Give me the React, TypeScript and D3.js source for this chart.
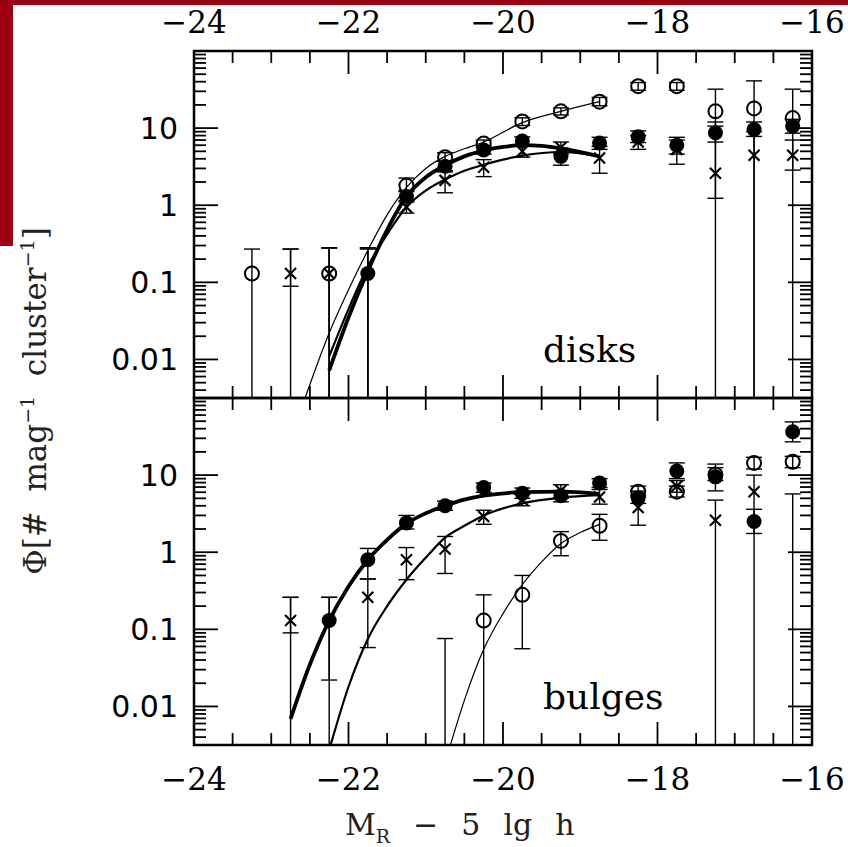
import React from "react";
import * as d3 from "d3";

// ---- data ----
const MAGS = [-23.25, -22.75, -22.25, -21.75, -21.25, -20.75, -20.25, -19.75, -19.25, -18.75, -18.25, -17.75, -17.25, -16.75, -16.25];

const X_TICKS = [-24, -22, -20, -18, -16];
const Y_TICKS = [0.01, 0.1, 1, 10];
const Y_TICK_LABELS = ["0.01", "0.1", "1", "10"];

// disks
const diskOpen = [0.13, 0, 0.13, 0, 1.8, 4.2, 6.3, 12.2, 16.5, 22, 35, 35, 16.5, 18, 13.5];
const diskOpenLo = [0, null, 0, null, 1.5, 3.7, 5.6, 10.8, 14.8, 19.5, 31, 31, 0, 0, 0];
const diskOpenHi = [0.27, 0.27, 0.28, 0.28, 2.25, 4.8, 7.0, 13.6, 18.3, 25, 39, 39, 32, 41, 32];

const diskFilled = [null, null, 0, 0.13, 1.3, 3.2, 5.2, 6.8, 4.3, 6.4, 7.7, 6.0, 8.7, 9.6, 10.6];
const diskFilledLo = [null, null, null, 0, 1.1, 2.8, 4.6, 6.0, 3.3, 5.3, 6.5, 4.6, 6.6, 7.8, 8.6];
const diskFilledHi = [null, null, 0.28, 0.27, 1.55, 3.7, 5.9, 7.7, 5.5, 7.6, 9.2, 7.6, 12.0, 12, 13];

const diskCross = [null, 0.13, 0.13, 0, 0.95, 2.1, 3.1, 5.0, 5.6, 4.1, 6.6, 5.3, 2.6, 4.45, 4.45];
const diskCrossLo = [null, 0.089, 0, null, 0.79, 1.45, 2.35, 4.2, 4.6, 2.6, 5.3, 3.4, 1.23, 0, 2.85];
const diskCrossHi = [null, 0.27, 0.28, 0.28, 1.15, 2.7, 3.9, 5.9, 6.6, 5.8, 8.0, 7.0, 10.6, 9, 7];

// bulges
const bulgeOpen = [null, null, null, null, null, 0, 0.13, 0.28, 1.4, 2.2, 6.1, 6.1, 10.2, 14.4, 14.9];
const bulgeOpenLo = [null, null, null, null, null, null, 0, 0.056, 0.9, 1.43, 5.2, 5.2, 8.5, 12, 12.5];
const bulgeOpenHi = [null, null, null, null, null, 0.076, 0.28, 0.5, 1.85, 3.1, 7.2, 7.2, 12.5, 17, 17.5];

const bulgeFilled = [null, 0, 0.13, 0.8, 2.4, 4.0, 6.9, 5.8, 5.4, 7.9, 5.1, 11.3, 9.5, 2.5, 36.5];
const bulgeFilledLo = [null, null, 0.022, 0.45, 2.0, 3.5, 6.0, 5.0, 4.5, 6.9, 4.3, 9.0, 6.25, 1.75, 27];
const bulgeFilledHi = [null, 0.26, 0.26, 1.12, 3.0, 4.6, 7.9, 6.8, 6.3, 9.0, 6.2, 14.4, 13.9, 3.6, 49];

const bulgeCross = [null, 0.13, 0, 0.26, 0.8, 1.1, 2.9, 4.8, 6.3, 5.2, 3.8, 7.2, 2.6, 6.1, 0];
const bulgeCrossLo = [null, 0.09, null, 0.058, 0.44, 0.53, 2.3, 4.0, 5.0, 4.2, 2.24, 6.0, 0, 0, null];
const bulgeCrossHi = [null, 0.26, 0.26, 0.45, 1.15, 1.6, 3.5, 5.6, 7.5, 6.5, 5.5, 8.5, 4.74, 10, 5.7];

// fit curves
const diskOpenFitM = [-22.56, -22.25, -22.0, -21.75, -21.5, -21.25, -21.0, -20.75, -20.5, -20.25, -19.75, -19.25, -18.75];
const diskOpenFitV = [0.0032, 0.022, 0.08, 0.26, 0.75, 1.7, 3.0, 4.3, 5.4, 6.6, 11.8, 16.5, 22];
const diskFilledFitM = [-22.25, -22.0, -21.75, -21.5, -21.25, -21.0, -20.75, -20.5, -20.25, -20.0, -19.75, -19.5, -19.25, -18.75];
const diskFilledFitV = [0.0072, 0.035, 0.14, 0.48, 1.3, 2.3, 3.3, 4.3, 5.1, 5.7, 6.0, 5.9, 5.45, 4.3];
const diskCrossFitM = [-22.25, -22.0, -21.75, -21.5, -21.25, -21.0, -20.75, -20.5, -20.25, -20.0, -19.75, -19.25, -18.75];
const diskCrossFitV = [0.011, 0.045, 0.16, 0.42, 0.95, 1.55, 2.15, 2.8, 3.35, 3.9, 4.4, 4.9, 4.3];

const bulgeFilledFitM = [-22.75, -22.5, -22.25, -22.0, -21.75, -21.5, -21.25, -21.0, -20.75, -20.5, -20.25, -19.75, -19.25, -18.75];
const bulgeFilledFitV = [0.0069, 0.035, 0.13, 0.36, 0.8, 1.45, 2.35, 3.2, 4.0, 4.8, 5.4, 6.0, 6.1, 5.7];
const bulgeCrossFitM = [-22.23, -22.0, -21.75, -21.5, -21.25, -21.0, -20.75, -20.5, -20.25, -19.75, -19.25, -18.75];
const bulgeCrossFitV = [0.0032, 0.018, 0.075, 0.2, 0.44, 0.85, 1.55, 2.2, 3.0, 4.3, 5.1, 5.5];
const bulgeOpenFitM = [-20.68, -20.5, -20.25, -20.0, -19.75, -19.5, -19.25, -19.0, -18.75];
const bulgeOpenFitV = [0.0032, 0.012, 0.055, 0.16, 0.38, 0.75, 1.3, 1.8, 2.3];

// ---- layout ----
const W = 848, H = 847;
const L = 194, R = 812;
const T1 = 51, B1 = 398, T2 = 398, B2 = 745;
const Y_DOMAIN: [number, number] = [Math.pow(10, -2.5), 100];
const RED = "#9d0012";
const SERIF = "'DejaVu Serif', serif";
const SANS = "'DejaVu Sans', sans-serif";

type Series = { kind: "open" | "filled" | "cross"; v: (number | null)[]; lo: (number | null)[]; hi: (number | null)[] };
type Fit = { m: number[]; v: number[]; w: number };

const x = d3.scaleLinear().domain([-24, -16]).range([L, R]);

function Panel({ id, top, bottom, series, fits, label }: { id: string; top: number; bottom: number; series: Series[]; fits: Fit[]; label: string }) {
  const y = d3.scaleLog().domain(Y_DOMAIN).range([bottom, top]);
  const line = d3.line<[number, number]>().x((d) => x(d[0])).y((d) => y(d[1])).curve(d3.curveMonotoneX);
  const minor: number[] = [];
  for (let e = -3; e <= 1; e++) for (let k = 2; k <= 9; k++) { const v = k * Math.pow(10, e); if (v > Y_DOMAIN[0] && v < Y_DOMAIN[1]) minor.push(v); }
  const xMinor = d3.range(-23.5, -16, 0.5).filter((m) => Math.abs(m % 2) > 0.01);
  const xMajor = [-22, -20, -18];
  const capW = 8;
  return (
    <g>
      <defs>
        <clipPath id={id}><rect x={L} y={top} width={R - L} height={bottom - top} /></clipPath>
      </defs>
      {/* ticks */}
      <g stroke="#000" strokeWidth={1.8}>
        {xMinor.map((m) => (
          <g key={"xm" + m}>
            <line x1={x(m)} x2={x(m)} y1={top} y2={top + 12} />
            <line x1={x(m)} x2={x(m)} y1={bottom} y2={bottom - 12} />
          </g>
        ))}
        {xMajor.map((m) => (
          <g key={"xM" + m}>
            <line x1={x(m)} x2={x(m)} y1={top} y2={top + 23} />
            <line x1={x(m)} x2={x(m)} y1={bottom} y2={bottom - 23} />
          </g>
        ))}
        {minor.map((v) => (
          <g key={"ym" + v}>
            <line x1={L} x2={L + 12} y1={y(v)} y2={y(v)} />
            <line x1={R} x2={R - 12} y1={y(v)} y2={y(v)} />
          </g>
        ))}
        {Y_TICKS.map((v) => (
          <g key={"yM" + v}>
            <line x1={L} x2={L + 24} y1={y(v)} y2={y(v)} />
            <line x1={R} x2={R - 24} y1={y(v)} y2={y(v)} />
          </g>
        ))}
      </g>
      {/* y tick labels */}
      {Y_TICKS.map((v, i) => (
        <text key={"yl" + v} x={178} y={y(v)} dy="0.36em" textAnchor="end" fontFamily={SANS} fontSize={30}>{Y_TICK_LABELS[i]}</text>
      ))}
      <g clipPath={`url(#${id})`}>
        {/* fits */}
        {fits.map((f, i) => (
          <path key={"f" + i} d={line(f.m.map((m, j) => [m, f.v[j]] as [number, number])) || ""} fill="none" stroke="#000" strokeWidth={f.w} strokeLinejoin="round" />
        ))}
        {/* error bars */}
        {series.map((s, si) => MAGS.map((m, i) => {
          const hi = s.hi[i];
          if (hi == null) return null;
          const lo = s.lo[i];
          const cx = x(m);
          const yH = y(hi);
          const yL = lo == null || lo <= 0 ? bottom + 2 : y(lo);
          return (
            <g key={`e${si}-${i}`} stroke="#000" strokeWidth={1.4}>
              <line x1={cx} x2={cx} y1={yH} y2={yL} />
              <line x1={cx - capW} x2={cx + capW} y1={yH} y2={yH} />
              {lo != null && lo > 0 && <line x1={cx - capW} x2={cx + capW} y1={yL} y2={yL} />}
            </g>
          );
        }))}
        {/* markers */}
        {series.map((s, si) => MAGS.map((m, i) => {
          const v = s.v[i];
          if (v == null || v <= 0) return null;
          const cx = x(m), cy = y(v);
          if (s.kind === "open") return <circle key={`m${si}-${i}`} cx={cx} cy={cy} r={7} fill="none" stroke="#000" strokeWidth={2} />;
          if (s.kind === "filled") return <circle key={`m${si}-${i}`} cx={cx} cy={cy} r={7.5} fill="#000" />;
          const d = 5.5;
          return (
            <g key={`m${si}-${i}`} stroke="#000" strokeWidth={2.2}>
              <line x1={cx - d} x2={cx + d} y1={cy - d} y2={cy + d} />
              <line x1={cx - d} x2={cx + d} y1={cy + d} y2={cy - d} />
            </g>
          );
        }))}
      </g>
      <text x={543} y={bottom - 36} fontFamily={SERIF} fontSize={36}>{label}</text>
    </g>
  );
}

export default function App() {
  const diskSeries: Series[] = [
    { kind: "open", v: diskOpen, lo: diskOpenLo, hi: diskOpenHi },
    { kind: "filled", v: diskFilled, lo: diskFilledLo, hi: diskFilledHi },
    { kind: "cross", v: diskCross, lo: diskCrossLo, hi: diskCrossHi },
  ];
  const bulgeSeries: Series[] = [
    { kind: "open", v: bulgeOpen, lo: bulgeOpenLo, hi: bulgeOpenHi },
    { kind: "filled", v: bulgeFilled, lo: bulgeFilledLo, hi: bulgeFilledHi },
    { kind: "cross", v: bulgeCross, lo: bulgeCrossLo, hi: bulgeCrossHi },
  ];
  const diskFits: Fit[] = [
    { m: diskOpenFitM, v: diskOpenFitV, w: 1.2 },
    { m: diskCrossFitM, v: diskCrossFitV, w: 2.2 },
    { m: diskFilledFitM, v: diskFilledFitV, w: 3.8 },
  ];
  const bulgeFits: Fit[] = [
    { m: bulgeOpenFitM, v: bulgeOpenFitV, w: 1.2 },
    { m: bulgeCrossFitM, v: bulgeCrossFitV, w: 2.2 },
    { m: bulgeFilledFitM, v: bulgeFilledFitV, w: 3.8 },
  ];
  return (
    <svg width={W} height={H} style={{ position: "absolute", left: 0, top: 0, background: "#fff" }}>
      <rect x={0} y={0} width={W} height={H} fill="#fff" />
      <Panel id="clipTop" top={T1} bottom={B1} series={diskSeries} fits={diskFits} label="disks" />
      <Panel id="clipBot" top={T2} bottom={B2} series={bulgeSeries} fits={bulgeFits} label="bulges" />
      {/* frames */}
      <rect x={L} y={T1} width={R - L} height={B1 - T1} fill="none" stroke="#000" strokeWidth={2.5} />
      <rect x={L} y={T2} width={R - L} height={B2 - T2} fill="none" stroke="#000" strokeWidth={2.5} />
      {/* x tick labels */}
      {X_TICKS.map((m) => (
        <g key={"xt" + m}>
          <text x={x(m)} y={33} textAnchor="middle" fontFamily={SERIF} fontSize={31}>{"\u2212" + Math.abs(m)}</text>
          <text x={x(m)} y={790} textAnchor="middle" fontFamily={SERIF} fontSize={31}>{"\u2212" + Math.abs(m)}</text>
        </g>
      ))}
      {/* x title */}
      <text x={345} y={835} fontFamily={SERIF} fontSize={30} fill="#222" wordSpacing={2} style={{ whiteSpace: "pre" }}>
        M<tspan fontSize={19} dy={8}>R</tspan><tspan dy={-8}>{"  \u2212  5  lg  h"}</tspan>
      </text>
      {/* y title */}
      <text transform="translate(46,401) rotate(-90)" textAnchor="middle" fontFamily={SERIF} fontSize={31} fill="#222" style={{ whiteSpace: "pre" }}>
        {"\u03A6[#  mag"}<tspan fontSize={19} dy={-12}>{"\u22121"}</tspan><tspan dy={12}>{"  cluster"}</tspan><tspan fontSize={19} dy={-12}>{"\u22121"}</tspan><tspan dy={12}>]</tspan>
      </text>
      {/* red corner frame */}
      <rect x={0} y={0} width={W} height={5} fill={RED} />
      <rect x={0} y={0} width={13} height={246} fill={RED} />
    </svg>
  );
}
